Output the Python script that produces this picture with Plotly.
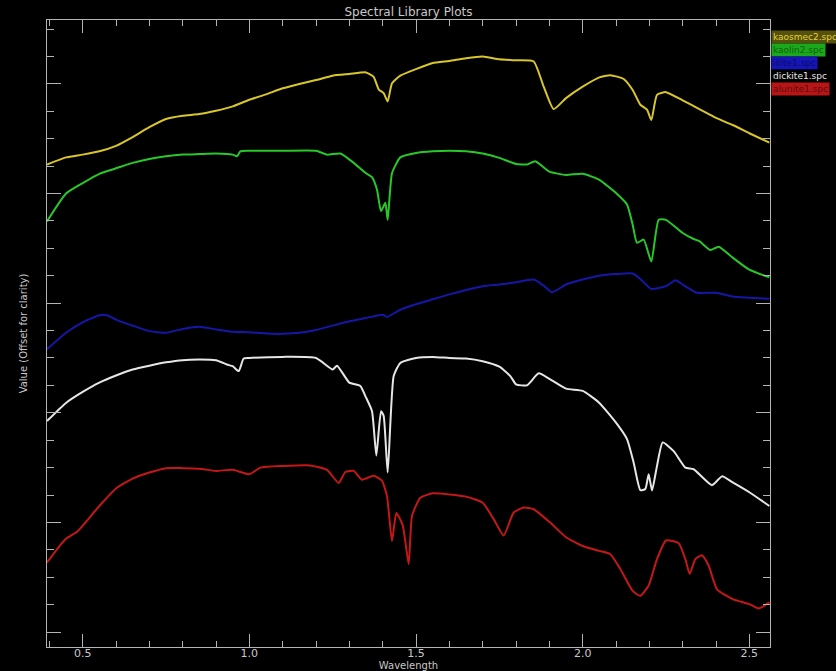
import plotly.graph_objects as go

# Spectral library curves (wavelength in micrometres, reflectance offset for clarity)
wl_kaosmec = [0.393, 0.45, 0.50, 0.55, 0.60, 0.65, 0.70, 0.75, 0.80, 0.85, 0.90, 0.95, 1.00, 1.05,
              1.10, 1.15, 1.20, 1.25, 1.30, 1.35, 1.373, 1.388, 1.403, 1.415, 1.428, 1.453, 1.50,
              1.55, 1.60, 1.65, 1.70, 1.75, 1.80, 1.853, 1.883, 1.913, 1.95, 2.00, 2.05, 2.083,
              2.123, 2.15, 2.173, 2.193, 2.206, 2.223, 2.25, 2.30, 2.35, 2.40, 2.45, 2.50, 2.56]
val_kaosmec = [0.853, 0.866, 0.871, 0.877, 0.887, 0.903, 0.921, 0.936, 0.942, 0.945, 0.951, 0.959,
               0.971, 0.981, 0.992, 1.000, 1.007, 1.015, 1.018, 1.021, 1.013, 0.990, 0.983, 0.968,
               1.001, 1.015, 1.027, 1.038, 1.042, 1.047, 1.050, 1.045, 1.043, 1.041, 0.995, 0.954,
               0.974, 0.995, 1.012, 1.016, 1.009, 0.989, 0.962, 0.953, 0.934, 0.980, 0.985, 0.970,
               0.954, 0.938, 0.925, 0.910, 0.893]

wl_kaolin = [0.393, 0.45, 0.50, 0.55, 0.60, 0.65, 0.70, 0.75, 0.80, 0.85, 0.90, 0.95, 0.963, 0.973,
             1.00, 1.10, 1.20, 1.233, 1.273, 1.313, 1.35, 1.368, 1.383, 1.395, 1.408, 1.415, 1.428,
             1.453, 1.50, 1.55, 1.60, 1.65, 1.70, 1.75, 1.80, 1.833, 1.858, 1.90, 1.95, 2.00, 2.05,
             2.10, 2.133, 2.15, 2.163, 2.183, 2.206, 2.228, 2.25, 2.30, 2.333, 2.35, 2.383, 2.408,
             2.45, 2.50, 2.56]
val_kaolin = [0.749, 0.800, 0.819, 0.836, 0.846, 0.856, 0.863, 0.868, 0.871, 0.872, 0.873, 0.871,
              0.868, 0.877, 0.878, 0.878, 0.878, 0.871, 0.873, 0.856, 0.837, 0.830, 0.807, 0.768,
              0.783, 0.752, 0.837, 0.866, 0.874, 0.877, 0.878, 0.877, 0.873, 0.865, 0.854, 0.853,
              0.859, 0.840, 0.834, 0.836, 0.825, 0.801, 0.780, 0.743, 0.710, 0.716, 0.676, 0.752,
              0.752, 0.728, 0.717, 0.713, 0.697, 0.703, 0.683, 0.661, 0.647]

wl_illite = [0.393, 0.45, 0.50, 0.55, 0.573, 0.60, 0.65, 0.70, 0.75, 0.80, 0.85, 0.90, 0.95, 1.00,
             1.073, 1.15, 1.20, 1.25, 1.30, 1.35, 1.40, 1.413, 1.453, 1.50, 1.55, 1.60, 1.65, 1.70,
             1.75, 1.80, 1.853, 1.883, 1.908, 1.95, 2.00, 2.05, 2.10, 2.15, 2.173, 2.206, 2.25,
             2.278, 2.30, 2.343, 2.40, 2.45, 2.50, 2.56]
val_illite = [0.516, 0.546, 0.565, 0.578, 0.578, 0.570, 0.559, 0.549, 0.546, 0.553, 0.557, 0.552,
              0.548, 0.547, 0.544, 0.546, 0.551, 0.559, 0.567, 0.573, 0.579, 0.575, 0.588, 0.598,
              0.607, 0.616, 0.624, 0.631, 0.634, 0.638, 0.643, 0.632, 0.620, 0.634, 0.643, 0.650,
              0.653, 0.654, 0.644, 0.626, 0.631, 0.642, 0.634, 0.619, 0.619, 0.612, 0.610, 0.608]

wl_dickite = [0.393, 0.45, 0.50, 0.55, 0.60, 0.65, 0.70, 0.75, 0.80, 0.85, 0.90, 0.933, 0.95, 0.968,
              0.983, 1.00, 1.10, 1.20, 1.25, 1.263, 1.30, 1.333, 1.35, 1.368, 1.381, 1.395, 1.403,
              1.415, 1.433, 1.453, 1.50, 1.55, 1.60, 1.65, 1.70, 1.75, 1.783, 1.80, 1.833, 1.868,
              1.90, 1.95, 2.00, 2.05, 2.10, 2.133, 2.153, 2.173, 2.188, 2.198, 2.208, 2.223, 2.24,
              2.273, 2.308, 2.333, 2.388, 2.418, 2.45, 2.50, 2.56]
val_dickite = [0.385, 0.418, 0.438, 0.455, 0.468, 0.479, 0.486, 0.492, 0.496, 0.497, 0.496, 0.488,
               0.485, 0.476, 0.499, 0.500, 0.502, 0.500, 0.479, 0.486, 0.455, 0.449, 0.428, 0.403,
               0.322, 0.403, 0.394, 0.291, 0.467, 0.491, 0.500, 0.502, 0.500, 0.499, 0.494, 0.484,
               0.467, 0.452, 0.450, 0.472, 0.462, 0.444, 0.440, 0.418, 0.382, 0.352, 0.309, 0.259,
               0.261, 0.288, 0.258, 0.303, 0.346, 0.330, 0.300, 0.297, 0.268, 0.284, 0.273, 0.255,
               0.230]

wl_alunite = [0.393, 0.423, 0.45, 0.483, 0.50, 0.55, 0.60, 0.65, 0.70, 0.75, 0.80, 0.85, 0.90, 0.95,
              1.00, 1.033, 1.10, 1.183, 1.233, 1.268, 1.288, 1.313, 1.338, 1.373, 1.398, 1.413,
              1.428, 1.441, 1.46, 1.478, 1.488, 1.513, 1.55, 1.60, 1.65, 1.70, 1.733, 1.763, 1.793,
              1.823, 1.853, 1.90, 1.95, 2.00, 2.05, 2.083, 2.113, 2.15, 2.173, 2.198, 2.223, 2.25,
              2.288, 2.308, 2.321, 2.338, 2.358, 2.378, 2.403, 2.45, 2.50, 2.528, 2.56]
val_alunite = [0.127, 0.151, 0.170, 0.183, 0.194, 0.230, 0.262, 0.280, 0.291, 0.299, 0.299, 0.298,
               0.294, 0.296, 0.288, 0.300, 0.303, 0.304, 0.296, 0.272, 0.292, 0.294, 0.278, 0.285,
               0.276, 0.248, 0.166, 0.217, 0.195, 0.124, 0.212, 0.245, 0.253, 0.251, 0.247, 0.236,
               0.206, 0.176, 0.218, 0.227, 0.224, 0.201, 0.173, 0.157, 0.148, 0.142, 0.115, 0.075,
               0.066, 0.085, 0.133, 0.167, 0.162, 0.133, 0.106, 0.133, 0.140, 0.121, 0.078, 0.060,
               0.051, 0.043, 0.054]

names = ["kaosmec2.spc", "kaolin2.spc", "illite1.spc", "dickite1.spc", "alunite1.spc"]
line_colors = ["#d8c62a", "#28c828", "#1616a8", "#e6e6e6", "#c41818"]
label_bg = ["#55500e", "#1ca81c", "#1616b8", "#000000", "#b81616"]
label_fg = ["#e2d236", "#0e620e", "#0a0a66", "#e8e8e8", "#5e0c0c"]

series = [
    (wl_kaosmec, val_kaosmec),
    (wl_kaolin, val_kaolin),
    (wl_illite, val_illite),
    (wl_dickite, val_dickite),
    (wl_alunite, val_alunite),
]

axis_col = "#b4b4b4"
text_col = "#c8c8c8"
font_family = "DejaVu Sans"

fig = go.Figure()
for (wl, val), name, col in zip(series, names, line_colors):
    fig.add_trace(go.Scatter(x=wl, y=val, mode="lines", name=name,
                             line=dict(color=col, width=2, shape="spline", smoothing=0.5),
                             showlegend=False))

# Colour-keyed name tags stacked beside the top right corner of the plot
for i, (name, bg, fg) in enumerate(zip(names, label_bg, label_fg)):
    fig.add_annotation(xref="paper", yref="paper", x=1.0015, y=0.973 - i * 0.0207,
                       xanchor="left", yanchor="middle", text=name, showarrow=False,
                       bgcolor=bg, borderpad=1,
                       font=dict(family=font_family, size=9, color=fg))

fig.update_layout(
    width=836, height=671,
    margin=dict(l=47, r=66, t=20, b=24),
    paper_bgcolor="black", plot_bgcolor="black",
    font=dict(family=font_family, color=text_col, size=10),
    title=dict(text="Spectral Library Plots", x=0.5, xref="paper", xanchor="center",
               y=1 - 12 / 671, yanchor="middle",
               font=dict(family=font_family, size=12, color=text_col)),
    xaxis=dict(range=[0.393, 2.562], showgrid=False, zeroline=False,
               showline=True, linecolor=axis_col, linewidth=1, mirror="ticks",
               ticks="inside", ticklen=13, tickwidth=1, tickcolor=axis_col,
               tick0=0.5, dtick=0.5, tickformat=".1f", ticklabelstandoff=-4,
               tickfont=dict(size=11, color=text_col),
               minor=dict(ticks="inside", ticklen=6, tickcolor=axis_col, tick0=0.5, dtick=0.1),
               title=dict(text="Wavelength", standoff=3,
                          font=dict(size=10, color=text_col)),
               automargin=False),
    yaxis=dict(range=[-0.0273, 1.1166], showgrid=False, zeroline=False,
               showline=True, linecolor=axis_col, linewidth=1, mirror="ticks",
               ticks="inside", ticklen=14, tickwidth=1, tickcolor=axis_col,
               tick0=0, dtick=0.2, showticklabels=False,
               minor=dict(ticks="inside", ticklen=7, tickcolor=axis_col, tick0=0, dtick=0.05),
               title=dict(text="Value (Offset for clarity)", standoff=16,
                          font=dict(size=10, color=text_col)),
               automargin=False),
)

fig.write_html("out.html")
